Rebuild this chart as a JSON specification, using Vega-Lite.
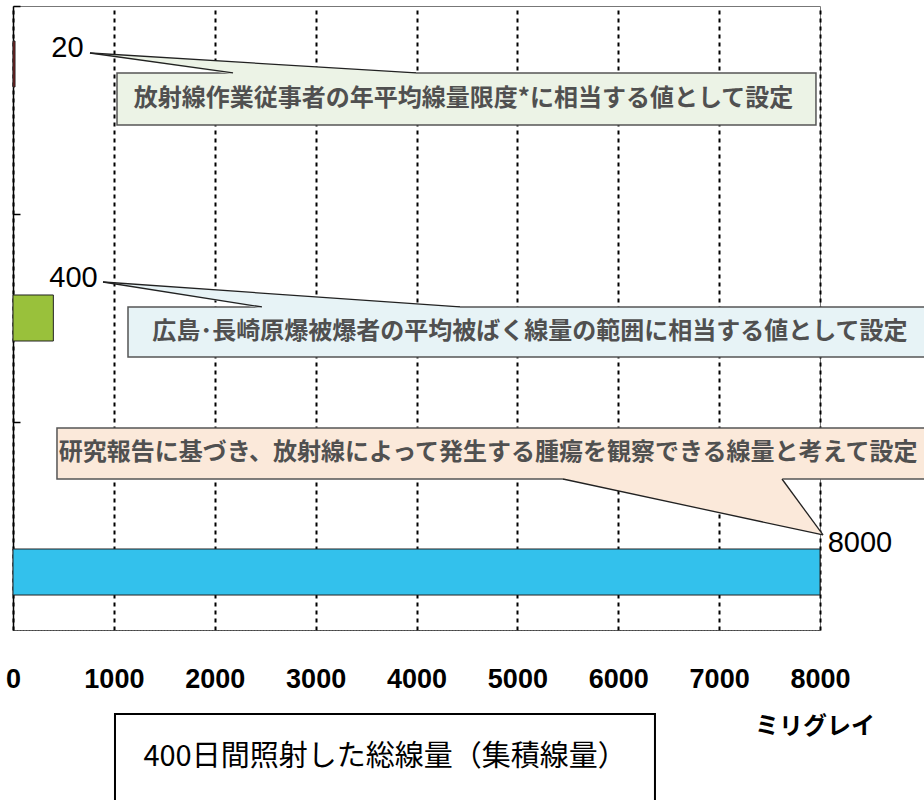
{
  "$schema": "https://vega.github.io/schema/vega-lite/v6.json",
  "width": 807,
  "height": 624,
  "autosize": {"type": "none"},
  "padding": {"left": 13, "top": 6, "right": 104, "bottom": 170},
  "background": "white",
  "config": {"view": {"stroke": "#777", "strokeWidth": 1}},
  "datasets": {
    "doses": [
      {"group": "放射線作業従事者", "series": "s1", "dose": 20},
      {"group": "原爆被爆者", "series": "s2", "dose": 400},
      {"group": "腫瘍観察", "series": "s3", "dose": 8000}
    ],
    "boxes": [
      {"bubble": "a", "x": 1031, "x2": 7960, "y": 0.322, "y2": 0.572, "tx": 4466, "ty": 0.447, "text": "放射線作業従事者の年平均線量限度*に相当する値として設定"},
      {"bubble": "b", "x": 1140, "x2": 9300, "y": 1.447, "y2": 1.688, "tx": 5125, "ty": 1.567, "text": "広島･長崎原爆被爆者の平均被ばく線量の範囲に相当する値として設定"},
      {"bubble": "c", "x": 436, "x2": 9300, "y": 2.029, "y2": 2.274, "tx": 4709, "ty": 2.151, "text": "研究報告に基づき、放射線によって発生する腫瘍を観察できる線量と考えて設定"}
    ],
    "pointers": [
      {"bubble": "a", "x": 763, "y": 0.226, "y2": 0.226},
      {"bubble": "a", "x": 2181, "y": 0.268, "y2": 0.328},
      {"bubble": "a", "x": 3995, "y": 0.322, "y2": 0.328},
      {"bubble": "b", "x": 892, "y": 1.327, "y2": 1.327},
      {"bubble": "b", "x": 2468, "y": 1.38, "y2": 1.453},
      {"bubble": "b", "x": 4431, "y": 1.447, "y2": 1.453},
      {"bubble": "c", "x": 5452, "y": 2.268, "y2": 2.274},
      {"bubble": "c", "x": 7623, "y": 2.268, "y2": 2.501},
      {"bubble": "c", "x": 8030, "y": 2.543, "y2": 2.543}
    ],
    "sides": [
      {"x": 763, "y": 0.226, "x2": 2181, "y2": 0.322},
      {"x": 763, "y": 0.226, "x2": 3995, "y2": 0.322},
      {"x": 892, "y": 1.327, "x2": 2468, "y2": 1.447},
      {"x": 892, "y": 1.327, "x2": 4431, "y2": 1.447},
      {"x": 5452, "y": 2.274, "x2": 8030, "y2": 2.543},
      {"x": 7623, "y": 2.274, "x2": 8030, "y2": 2.543}
    ],
    "valueLabels": [
      {"dose": 20, "x": 540, "y": 0.204},
      {"dose": 400, "x": 600, "y": 1.308},
      {"dose": 8000, "x": 8396, "y": 2.582}
    ],
    "captions": [
      {"text": "ミリグレイ", "x": 7950, "y": 3.466}
    ],
    "titleBox": [
      {"x": 1011, "x2": 6364, "y": 3.404, "y2": 3.95, "tx": 3688, "ty": 3.611, "text": "400日間照射した総線量（集積線量）"}
    ]
  },
  "layer": [
    {
      "data": {"name": "doses"},
      "mark": {"type": "bar", "stroke": "#222", "strokeWidth": 1},
      "encoding": {
        "x": {
          "field": "dose", "type": "quantitative", "title": null,
          "scale": {"domain": [0, 8000], "nice": false, "zero": false},
          "axis": {
            "values": [0, 1000, 2000, 3000, 4000, 5000, 6000, 7000, 8000],
            "format": "d", "title": null,
            "grid": true, "gridColor": "#000", "gridDash": [4, 4], "gridWidth": 2, "gridOpacity": 1,
            "ticks": false,
            "domain": true, "domainColor": "#444", "domainDash": [2, 1], "domainWidth": 1,
            "labelFont": "Liberation Sans", "labelFontWeight": "bold", "labelFontSize": 27,
            "labelColor": "#000", "labelPadding": 36, "labelFlush": false, "labelOverlap": false
          }
        },
        "y": {
          "field": "group", "type": "nominal",
          "scale": {"domain": ["放射線作業従事者", "原爆被爆者", "腫瘍観察"], "paddingInner": 0, "paddingOuter": 0},
          "axis": {
            "title": null, "labels": false, "grid": false,
            "bandPosition": 0, "tickSize": -7, "tickColor": "#000", "tickWidth": 1.5,
            "domainColor": "#000", "domainWidth": 1.5
          }
        },
        "yOffset": {
          "field": "series", "type": "nominal",
          "scale": {"domain": ["s1", "s2", "s3"], "paddingInner": 0, "paddingOuter": 0.76}
        },
        "color": {
          "field": "series", "type": "nominal",
          "scale": {"domain": ["s1", "s2", "s3"], "range": ["#8b1c1c", "#99c13b", "#33c1ec"]},
          "legend": null
        }
      }
    },
    {
      "layer": [
        {
          "data": {"name": "boxes"},
          "mark": {"type": "rect", "stroke": "#555", "strokeWidth": 1.5},
          "encoding": {
            "x": {"field": "x", "type": "quantitative", "title": null, "scale": {"domain": [0, 8000], "nice": false, "zero": false}},
            "x2": {"field": "x2"},
            "y": {"field": "y", "type": "quantitative", "scale": {"domain": [0, 3], "reverse": true, "nice": false, "zero": false}, "axis": null},
            "y2": {"field": "y2"},
            "fill": {
              "field": "bubble", "type": "nominal",
              "scale": {"domain": ["a", "b", "c"], "range": ["#ecf3e6", "#e7f3f6", "#fbe9da"]},
              "legend": null
            }
          }
        },
        {
          "data": {"name": "pointers"},
          "mark": {"type": "area", "orient": "vertical", "strokeWidth": 0},
          "encoding": {
            "x": {"field": "x", "type": "quantitative", "title": null, "scale": {"domain": [0, 8000], "nice": false, "zero": false}},
            "y": {"field": "y", "type": "quantitative", "scale": {"domain": [0, 3], "reverse": true, "nice": false, "zero": false}, "axis": null},
            "y2": {"field": "y2"},
            "fill": {
              "field": "bubble", "type": "nominal",
              "scale": {"domain": ["a", "b", "c"], "range": ["#ecf3e6", "#e7f3f6", "#fbe9da"]},
              "legend": null
            },
            "detail": {"field": "bubble", "type": "nominal"}
          }
        },
        {
          "data": {"name": "sides"},
          "mark": {"type": "rule", "stroke": "#222", "strokeWidth": 1.3},
          "encoding": {
            "x": {"field": "x", "type": "quantitative", "title": null, "scale": {"domain": [0, 8000], "nice": false, "zero": false}},
            "x2": {"field": "x2"},
            "y": {"field": "y", "type": "quantitative", "scale": {"domain": [0, 3], "reverse": true, "nice": false, "zero": false}, "axis": null},
            "y2": {"field": "y2"}
          }
        },
        {
          "data": {"name": "boxes"},
          "mark": {"type": "text", "font": "Noto Sans CJK JP", "fontWeight": "bold", "fontSize": 24, "fill": "#505050", "align": "center", "baseline": "middle"},
          "encoding": {
            "x": {"field": "tx", "type": "quantitative", "title": null, "scale": {"domain": [0, 8000], "nice": false, "zero": false}},
            "y": {"field": "ty", "type": "quantitative", "scale": {"domain": [0, 3], "reverse": true, "nice": false, "zero": false}, "axis": null},
            "text": {"field": "text"}
          }
        },
        {
          "data": {"name": "valueLabels"},
          "mark": {"type": "text", "font": "Liberation Sans", "fontSize": 29, "fill": "#000", "align": "center", "baseline": "middle"},
          "encoding": {
            "x": {"field": "x", "type": "quantitative", "title": null, "scale": {"domain": [0, 8000], "nice": false, "zero": false}},
            "y": {"field": "y", "type": "quantitative", "scale": {"domain": [0, 3], "reverse": true, "nice": false, "zero": false}, "axis": null},
            "text": {"field": "dose", "type": "quantitative", "format": "d"}
          }
        },
        {
          "data": {"name": "captions"},
          "mark": {"type": "text", "font": "Noto Sans CJK JP", "fontWeight": "bold", "fontSize": 24, "fill": "#000", "align": "center", "baseline": "middle"},
          "encoding": {
            "x": {"field": "x", "type": "quantitative", "title": null, "scale": {"domain": [0, 8000], "nice": false, "zero": false}},
            "y": {"field": "y", "type": "quantitative", "scale": {"domain": [0, 3], "reverse": true, "nice": false, "zero": false}, "axis": null},
            "text": {"field": "text"}
          }
        },
        {
          "data": {"name": "titleBox"},
          "mark": {"type": "rect", "fill": "white", "stroke": "#000", "strokeWidth": 2},
          "encoding": {
            "x": {"field": "x", "type": "quantitative", "title": null, "scale": {"domain": [0, 8000], "nice": false, "zero": false}},
            "x2": {"field": "x2"},
            "y": {"field": "y", "type": "quantitative", "scale": {"domain": [0, 3], "reverse": true, "nice": false, "zero": false}, "axis": null},
            "y2": {"field": "y2"}
          }
        },
        {
          "data": {"name": "titleBox"},
          "mark": {"type": "text", "font": "Noto Sans CJK JP", "fontSize": 29, "fill": "#000", "align": "center", "baseline": "middle"},
          "encoding": {
            "x": {"field": "tx", "type": "quantitative", "title": null, "scale": {"domain": [0, 8000], "nice": false, "zero": false}},
            "y": {"field": "ty", "type": "quantitative", "scale": {"domain": [0, 3], "reverse": true, "nice": false, "zero": false}, "axis": null},
            "text": {"field": "text"}
          }
        }
      ]
    }
  ],
  "resolve": {"scale": {"y": "independent", "fill": "independent", "color": "independent"}}
}
